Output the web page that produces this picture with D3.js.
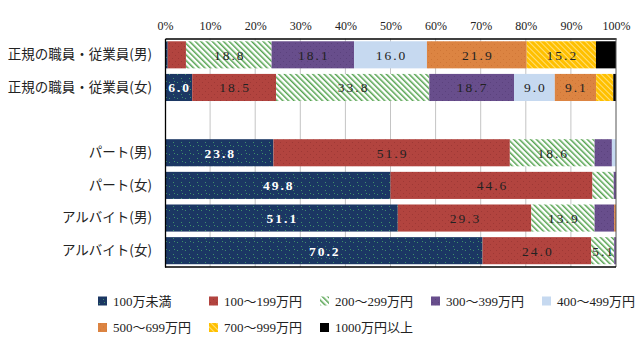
<!DOCTYPE html>
<html>
<head>
<meta charset="utf-8">
<script src="https://cdn.jsdelivr.net/npm/d3@7"></script>
<style>
  html, body { margin: 0; padding: 0; background: #fff; }
  svg { display: block; }
</style>
</head>
<body>
<svg id="chart" width="642" height="357"></svg>
<script>
// ---- data ----
const categories = ["正規の職員・従業員(男)", "正規の職員・従業員(女)", "", "パート(男)", "パート(女)", "アルバイト(男)", "アルバイト(女)"];
const seriesNames = ["100万未満", "100～199万円", "200～299万円", "300～399万円", "400～499万円", "500～699万円", "700～999万円", "1000万円以上"];
const s100 = [0.6, 6.0, null, 23.8, 49.8, 51.1, 70.2];
const s199 = [4.0, 18.5, null, 51.9, 44.6, 29.3, 24.0];
const s299 = [18.8, 33.8, null, 18.6, 4.7, 13.9, 5.1];
const s399 = [18.1, 18.7, null, 3.8, 0.5, 4.3, 0.4];
const s499 = [16.0, 9.0, null, 0.9, 0, 0, 0];
const s699 = [21.9, 9.1, null, 0, 0, 0.4, 0];
const s999 = [15.2, 3.8, null, 0, 0, 0, 0];
const s1000 = [4.4, 0.6, null, 0, 0, 0, 0];
const seriesValues = [s100, s199, s299, s399, s499, s699, s999, s1000];
const tickValues = [0, 10, 20, 30, 40, 50, 60, 70, 80, 90, 100];
const tickLabels = ["0%", "10%", "20%", "30%", "40%", "50%", "60%", "70%", "80%", "90%", "100%"];

// ---- layout ----
const svg = d3.select("#chart");
const pLeft = 165, pRight = 616, pTop = 38.5, pBottom = 267;
const x = d3.scaleLinear().domain([0, 100]).range([pLeft, pRight]);
const y = d3.scaleBand().domain(d3.range(categories.length)).range([pTop, pBottom]).paddingInner(0.17).paddingOuter(0.085);

const numFont = "'Liberation Serif', 'Noto Sans CJK JP', serif";
const jpFont = "'Noto Sans CJK JP', 'Liberation Serif', sans-serif";

// ---- patterns ----
const defs = svg.append("defs");
function dotPattern(id, base, dot, size, dots) {
  const p = defs.append("pattern").attr("id", id).attr("patternUnits", "userSpaceOnUse")
    .attr("width", size).attr("height", size);
  p.append("rect").attr("width", size).attr("height", size).attr("fill", base);
  dots.forEach(d => p.append("rect").attr("x", d[0]).attr("y", d[1]).attr("width", 1).attr("height", 1).attr("fill", dot));
}
dotPattern("pNavy", "#1b3763", "#3f8f6a", 8, [[1, 2], [5, 6], [6, 1]]);
dotPattern("pRed", "#b2443f", "#9e3835", 6, [[1, 1], [4, 4]]);
dotPattern("pPurple", "#684e8c", "#5b427d", 6, [[1, 1], [4, 4]]);
dotPattern("pOrange", "#dc8442", "#cf7636", 6, [[2, 2], [5, 5]]);
{
  const p = defs.append("pattern").attr("id", "pGreen").attr("patternUnits", "userSpaceOnUse")
    .attr("width", 4).attr("height", 4).attr("patternTransform", "rotate(-45)");
  p.append("rect").attr("width", 4).attr("height", 4).attr("fill", "#ffffff");
  p.append("rect").attr("x", 0).attr("y", 0).attr("width", 1.5).attr("height", 4).attr("fill", "#55a350");
}
{
  const p = defs.append("pattern").attr("id", "pYellow").attr("patternUnits", "userSpaceOnUse")
    .attr("width", 4).attr("height", 4).attr("patternTransform", "rotate(-45)");
  p.append("rect").attr("width", 4).attr("height", 4).attr("fill", "#ffc000");
  p.append("rect").attr("x", 0).attr("y", 0).attr("width", 1).attr("height", 4).attr("fill", "#ffe07a");
}
const fills = ["url(#pNavy)", "url(#pRed)", "url(#pGreen)", "url(#pPurple)", "#c6d9f0", "url(#pOrange)", "url(#pYellow)", "#000000"];
const textColors = ["#ffffff", "#222222", "#222222", "#222222", "#222222", "#222222", "#222222", "#ffffff"];

// ---- gridlines ----
svg.append("g").selectAll("line").data(tickValues.slice(1, -1)).join("line")
  .attr("x1", d => x(d)).attr("x2", d => x(d))
  .attr("y1", pTop).attr("y2", pBottom)
  .attr("stroke", "#c4c4c4").attr("stroke-width", 1);

// ---- stacked (100% normalised) bars ----
const rows = categories.map((c, i) => {
  const vals = seriesValues.map(s => s[i]);
  if (vals.some(v => v == null)) return [];
  const total = d3.sum(vals);
  let acc = 0;
  return vals.map((v, k) => {
    const seg = { row: i, k, v, x0: acc / total * 100, x1: (acc + v) / total * 100 };
    acc += v;
    return seg;
  });
});
const segs = rows.flat().filter(d => d.v > 0);
const gBars = svg.append("g");
gBars.selectAll("rect").data(segs).join("rect")
  .attr("x", d => x(d.x0))
  .attr("y", d => y(d.row))
  .attr("width", d => Math.max(0, x(d.x1) - x(d.x0)))
  .attr("height", y.bandwidth())
  .attr("fill", d => fills[d.k]);

// labels
svg.append("g").selectAll("text").data(segs.filter(d => d.v >= 5)).join("text")
  .attr("x", d => (x(d.x0) + x(d.x1)) / 2 + 1)
  .attr("y", d => y(d.row) + y.bandwidth() / 2)
  .attr("dy", "0.36em")
  .attr("text-anchor", "middle")
  .attr("font-family", numFont)
  .attr("font-size", 13.5)
  .attr("letter-spacing", "2px")
  .attr("font-weight", d => d.k === 0 ? "bold" : "normal")
  .attr("fill", d => textColors[d.k])
  .text(d => d.v.toFixed(1));

// ---- axes / frame ----
const xAxis = d3.axisTop(x).tickValues(tickValues).tickFormat((d, i) => tickLabels[i]).tickSize(0).tickPadding(9);
const gx = svg.append("g").attr("transform", `translate(0,${pTop})`).call(xAxis);
gx.select(".domain").attr("stroke", "#000").attr("stroke-width", 1.3);
gx.selectAll("text").attr("font-family", numFont).attr("font-size", 12).attr("fill", "#222");

svg.append("line").attr("x1", x(100)).attr("x2", x(100)).attr("y1", pTop).attr("y2", pBottom)
  .attr("stroke", "#555").attr("stroke-width", 1);
svg.append("line").attr("x1", pLeft).attr("x2", pRight).attr("y1", pBottom).attr("y2", pBottom)
  .attr("stroke", "#000").attr("stroke-width", 1.3);

const yAxis = d3.axisLeft(y).tickFormat(i => categories[i]).tickSize(0).tickPadding(13);
const gy = svg.append("g").attr("transform", `translate(${pLeft},0)`).call(yAxis);
gy.select(".domain").attr("stroke", "#000").attr("stroke-width", 1.3);
gy.selectAll("text").attr("font-family", jpFont).attr("font-size", 13.5).attr("fill", "#222");

// ---- legend ----
const legend = svg.append("g");
const items = legend.selectAll("g").data(seriesNames).join("g")
  .attr("transform", (d, i) => `translate(${98 + (i % 5) * 111},${301 + Math.floor(i / 5) * 26.5})`);
items.append("rect").attr("x", 0).attr("y", -4.5).attr("width", 9).attr("height", 9)
  .attr("fill", (d, i) => fills[i]);
items.append("text").attr("x", 15).attr("y", 0).attr("dy", "0.36em")
  .attr("font-family", numFont).attr("font-size", 13).attr("fill", "#222")
  .text(d => d);
</script>
</body>
</html>
